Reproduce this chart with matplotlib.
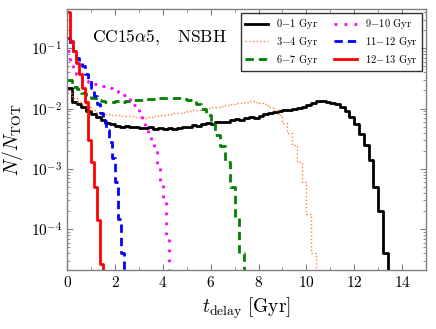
import numpy as np
import matplotlib
matplotlib.use('Agg')
import matplotlib.pyplot as plt
from matplotlib.ticker import MultipleLocator

plt.rcParams['font.family'] = 'serif'
plt.rcParams['font.serif'] = ['cmr10', 'DejaVu Serif']
plt.rcParams['mathtext.fontset'] = 'cm'
plt.rcParams['axes.unicode_minus'] = False
plt.rcParams['axes.formatter.use_mathtext'] = True

# histogram values, N/N_TOT per bin (bins start at 0)
wide_bin = 0.2
narrow_bin = 0.125

black_0_1 = [0.022, 0.013, 0.0118, 0.0105, 0.0092, 0.0082, 0.0072, 0.0064, 0.0058, 0.0055,
             0.0052, 0.0050, 0.0051, 0.0049, 0.0050, 0.0048, 0.0047, 0.0049, 0.0046, 0.0047,
             0.0046, 0.0048, 0.0046, 0.0047, 0.0049, 0.0050, 0.0053, 0.0052, 0.0055, 0.0057,
             0.0056, 0.0059, 0.0061, 0.0060, 0.0064, 0.0066, 0.0065, 0.0069, 0.0072, 0.0071,
             0.0076, 0.0080, 0.0084, 0.0087, 0.0090, 0.0093, 0.0096, 0.0100, 0.0103, 0.0108,
             0.0116, 0.0123, 0.0135, 0.0132, 0.0128, 0.0124, 0.0117, 0.0105, 0.0090, 0.0072,
             0.0056, 0.0038, 0.0025, 0.0014, 5e-4, 2e-4, 4e-5]

orange_3_4 = [0.018, 0.015, 0.013, 0.0118, 0.0105, 0.0095, 0.0088, 0.0084, 0.0080, 0.0078,
              0.0077, 0.0075, 0.0076, 0.0074, 0.0073, 0.0072, 0.0071, 0.0073, 0.0075, 0.0077,
              0.0079, 0.0081, 0.0083, 0.0086, 0.0088, 0.0090, 0.0093, 0.0096, 0.0098, 0.0102,
              0.0105, 0.0108, 0.0111, 0.0114, 0.0118, 0.0123, 0.0126, 0.0130, 0.0132, 0.0128,
              0.0126, 0.0120, 0.0108, 0.0095, 0.0078, 0.0058, 0.0040, 0.0025, 0.0013, 6e-4,
              1.8e-4, 4e-5]

green_6_7 = [0.030, 0.023, 0.021, 0.018, 0.016, 0.0148, 0.0140, 0.0134, 0.0131, 0.0130,
             0.0132, 0.0131, 0.0134, 0.0136, 0.0138, 0.0140, 0.0142, 0.0144, 0.0147, 0.0148,
             0.0151, 0.0152, 0.0150, 0.0151, 0.0146, 0.0140, 0.0132, 0.0118, 0.0100, 0.0078,
             0.0055, 0.0037, 0.0024, 0.0013, 5e-4, 1.6e-4, 4e-5]

magenta_9_10 = [0.09, 0.06, 0.045, 0.038, 0.034, 0.031, 0.029, 0.028, 0.027, 0.026,
                0.025, 0.025, 0.024, 0.023, 0.022, 0.021, 0.020, 0.019, 0.018, 0.017,
                0.015, 0.013, 0.0115, 0.0097, 0.0080, 0.0064, 0.0050, 0.0038, 0.0027, 0.0019,
                0.0011, 6e-4, 2.8e-4, 8e-5]

blue_11_12 = [0.15, 0.12, 0.09, 0.07, 0.058, 0.05, 0.038, 0.03, 0.022, 0.016,
              0.012, 0.0086, 0.0062, 0.0045, 0.0028, 0.0015, 6e-4, 1.5e-4, 4e-5]

red_12_13 = [0.40, 0.13, 0.09, 0.058, 0.037, 0.022, 0.013, 0.003, 1.3e-3, 5e-4,
             1.4e-4, 2.7e-5]

series = [
    ('$0\\!-\\!1$ Gyr', black_0_1, wide_bin, dict(color='black', lw=2.0, ls='-')),
    ('$3\\!-\\!4$ Gyr', orange_3_4, wide_bin, dict(color='#ff7f3f', lw=1.0, ls=':')),
    ('$6\\!-\\!7$ Gyr', green_6_7, wide_bin, dict(color='green', lw=2.0, ls=(0, (3, 1.8)))),
    ('$9\\!-\\!10$ Gyr', magenta_9_10, narrow_bin, dict(color='magenta', lw=2.0, ls=(0, (1, 2.6)))),
    ('$11\\!-\\!12$ Gyr', blue_11_12, narrow_bin, dict(color='blue', lw=2.0, ls=(0, (3, 1.8)))),
    ('$12\\!-\\!13$ Gyr', red_12_13, narrow_bin, dict(color='red', lw=2.0, ls='-')),
]

fig = plt.figure(figsize=(4.36, 3.29), dpi=100)
ax = fig.add_axes([0.154, 0.179, 0.823, 0.794])

floor = 1e-7
for label, vals, width, style in series:
    edges = np.arange(len(vals) + 1) * width
    ys = np.append(vals, floor)
    ax.step(edges, ys, where='post', label=label, **style)

ax.set_yscale('log')
ax.set_xlim(0, 15)
ax.set_ylim(2.1e-5, 0.45)
ax.xaxis.set_major_locator(MultipleLocator(2))
ax.xaxis.set_minor_locator(MultipleLocator(1))

for sp in ax.spines.values():
    sp.set_color('#808080')
    sp.set_linewidth(1.0)
ax.tick_params(which='both', direction='in', top=True, right=True, color='#808080')
ax.tick_params(which='major', length=4, labelsize=11)
ax.tick_params(which='minor', length=2)

ax.set_xlabel(r'$t_{\rm delay}\ [{\rm Gyr}]$', fontsize=14)
ax.set_ylabel(r'$N/N_{\rm TOT}$', fontsize=14)

ax.text(0.07, 0.89, r'${\rm CC15}\alpha{\rm 5},\ \ \ {\rm NSBH}$', transform=ax.transAxes,
        fontsize=12.5, va='center')

leg = ax.legend(loc='upper right', ncol=2, fontsize=7.5, fancybox=False,
                edgecolor='black', handlelength=2.2, columnspacing=1.5,
                borderaxespad=0.4, labelspacing=0.35)
leg.get_frame().set_linewidth(1.0)

fig.savefig('out.png', dpi=100)
